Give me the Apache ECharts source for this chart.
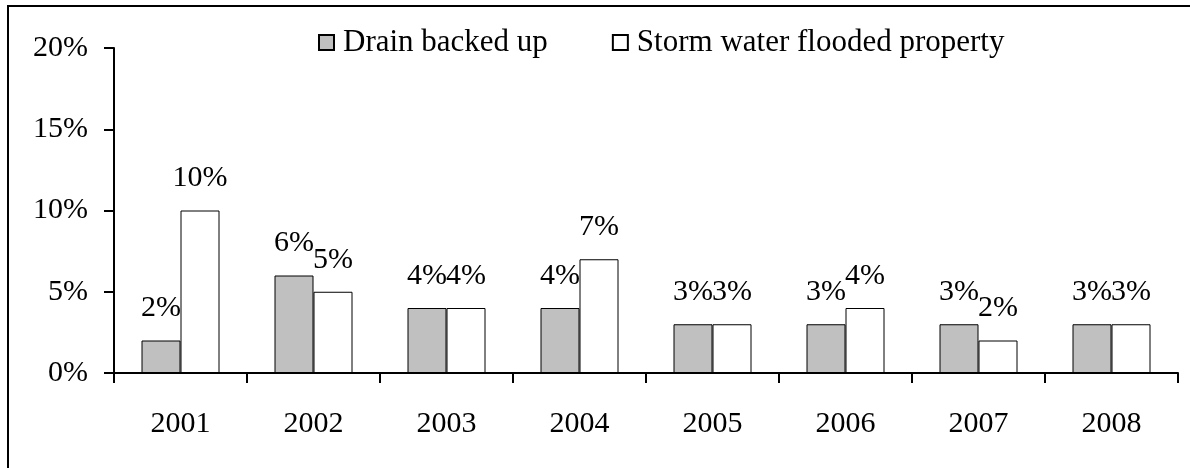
<!DOCTYPE html>
<html>
<head>
<meta charset="utf-8">
<script src="https://cdn.jsdelivr.net/npm/echarts@6/dist/echarts.min.js"></script>
<style>
  html, body { margin: 0; padding: 0; background: #fff; }
  #chart { width: 1190px; height: 468px; }
</style>
</head>
<body>
<div id="chart"></div>
<script>
  // data
  const years = ['2001', '2002', '2003', '2004', '2005', '2006', '2007', '2008']
  const drainBackedUp = [2, 6, 4, 4, 3, 3, 3, 3]
  const stormFlooded = [10, 5, 4, 7, 3, 4, 2, 3]
  const seriesNames = ['Drain backed up', 'Storm water flooded property']

  const font = "'Liberation Serif', 'Times New Roman', serif"

  let chart = echarts.init(document.getElementById('chart'))

  function barSeries(name, data, fill) {
    return {
      name: name,
      type: 'bar',
      data: data,
      barWidth: 39,
      barGap: '0%',
      itemStyle: {
        color: fill,
        borderColor: '#000',
        borderWidth: 1
      },
      label: {
        show: true,
        position: 'top',
        distance: 17,
        formatter: '{c}%',
        color: '#000',
        fontFamily: font,
        fontSize: 30
      }
    }
  }

  chart.setOption({
    animation: false,
    textStyle: { fontFamily: font },
    // outer frame (right and bottom edges sit outside the picture)
    graphic: [{
      type: 'rect',
      shape: { x: 8, y: 6, width: 1200, height: 500 },
      style: { fill: 'none', stroke: '#000', lineWidth: 2 },
      silent: true
    }],
    legend: {
      left: 318,
      top: 27,
      padding: 0,
      itemWidth: 15,
      itemHeight: 15,
      itemGap: 64,
      icon: 'rect',
      textStyle: {
        color: '#000',
        fontFamily: font,
        fontSize: 31,
        padding: [0, 0, 0, 4]
      },
      data: seriesNames
    },
    grid: {
      left: 114,
      right: 12,
      top: 48,
      bottom: 95
    },
    xAxis: {
      type: 'category',
      data: years,
      axisLine: { lineStyle: { color: '#000', width: 2 } },
      axisTick: { show: true, length: 10, lineStyle: { color: '#000', width: 2 } },
      axisLabel: {
        color: '#000',
        fontFamily: font,
        fontSize: 30,
        margin: 36
      }
    },
    yAxis: {
      type: 'value',
      min: 0,
      max: 20,
      interval: 5,
      axisLine: { show: true, lineStyle: { color: '#000', width: 2 } },
      axisTick: { show: true, length: 10, lineStyle: { color: '#000', width: 2 } },
      splitLine: { show: false },
      axisLabel: {
        color: '#000',
        fontFamily: font,
        fontSize: 30,
        margin: 26,
        formatter: '{value}%'
      }
    },
    series: [
      barSeries(seriesNames[0], drainBackedUp, '#c0c0c0'),
      barSeries(seriesNames[1], stormFlooded, '#ffffff')
    ]
  })
</script>
</body>
</html>
